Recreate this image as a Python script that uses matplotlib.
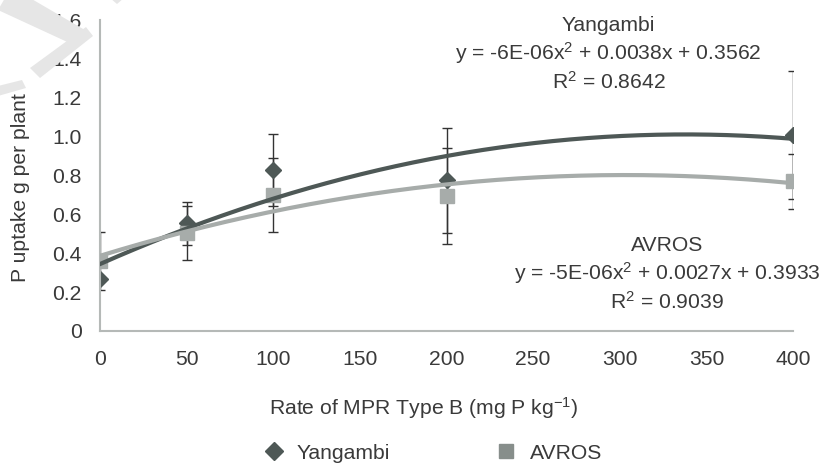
import numpy as np
import matplotlib
matplotlib.use("Agg")
import matplotlib.pyplot as plt
from matplotlib.lines import Line2D
from matplotlib.patches import Polygon

plt.rcParams['font.family'] = ['Liberation Sans', 'DejaVu Sans']
plt.rcParams['mathtext.fontset'] = 'custom'
plt.rcParams['mathtext.rm'] = 'Liberation Sans'
plt.rcParams['mathtext.it'] = 'Liberation Sans'

# data
rate = [0, 50, 100, 200, 400]
yangambi = [0.27, 0.555, 0.83, 0.776, 1.01]
yangambi_err = [0.0, 0.11, 0.185, 0.27, 0.33]
avros = [0.36, 0.505, 0.70, 0.694, 0.77]
avros_err = [0.15, 0.14, 0.19, 0.245, 0.14]

x_ticks = [0, 50, 100, 150, 200, 250, 300, 350, 400]
y_ticks = [0, 0.2, 0.4, 0.6, 0.8, 1.0, 1.2, 1.4, 1.6]
y_ticklabels = ['0', '0.2', '0.4', '0.6', '0.8', '1.0', '1.2', '1.4', '1.6']

dark = '#4e5856'
light = '#a7acaa'
txt = '#3a3a3a'
fs = 15.2

fig = plt.figure(figsize=(8.24, 4.68), dpi=100)

# faint watermark arrow in the top-left corner
W, H = 824.0, 468.0
def px(pts):
    return [(a / W, 1 - b / H) for a, b in pts]
for pts in ([(5, -2), (30, -2), (90, 33), (76, 46), (-2, 10)],
            [(30, 68), (86, 27), (93, 36), (40, 78)],
            [(-2, 86), (22, 80), (26, 88), (-2, 96)],
            [(110, -2), (124, -2), (117, 4)]):
    fig.patches.append(Polygon(px(pts), closed=True, transform=fig.transFigure,
                               facecolor='#e6e6e6', edgecolor='none', zorder=0))

ax = fig.add_axes([100 / W, 1 - 331 / H, 693 / W, 311 / H])
ax.patch.set_alpha(0)

ax.errorbar(rate, yangambi, yerr=yangambi_err, fmt='none', ecolor='#333333',
            elinewidth=1, capsize=3.6, capthick=1, zorder=1)
ax.errorbar(rate, avros, yerr=avros_err, fmt='none', ecolor='#333333',
            elinewidth=1, capsize=3.6, capthick=1, zorder=1)
ax.plot(rate, yangambi, linestyle='none', marker='D', ms=8.5, color=dark, zorder=2)
ax.plot(rate, avros, linestyle='none', marker='s', ms=10, color=light, zorder=3)

# polynomial trend lines (order 2)
xs = np.linspace(0, 400, 200)
cy = np.polyfit(rate, yangambi, 2)
ca = np.polyfit(rate, avros, 2)
ax.plot(xs, np.polyval(cy, xs), color=dark, lw=3, zorder=4)
ax.plot(xs, np.polyval(ca, xs), color=light, lw=3, zorder=4)

ax.set_xlim(0, 400)
ax.set_ylim(0, 1.6)
ax.set_xticks(x_ticks)
ax.set_yticks(y_ticks)
ax.set_yticklabels(y_ticklabels)
ax.tick_params(length=0, labelsize=fs, colors=txt)
ax.tick_params(axis='y', pad=13)
ax.tick_params(axis='x', pad=14)
for s in ['top', 'right']:
    ax.spines[s].set_visible(False)
for s in ['left', 'bottom']:
    ax.spines[s].set_color('#b5b9b7')
    ax.spines[s].set_linewidth(1.5)

ax.set_ylabel('P uptake g per plant', fontsize=fs, color=txt)
ax.yaxis.set_label_coords(-0.101, 0.46)
ax.set_xlabel('Rate of MPR Type B (mg P kg$^{-1}$)', fontsize=fs, color=txt)
ax.xaxis.set_label_coords(0.4675, -0.205)

# trend line labels
ax.text(0.734, 1.012, 'Yangambi\ny = -6E-06x$^2$ + 0.0038x + 0.3562\nR$^2$ = 0.8642',
        transform=ax.transAxes, ha='center', va='top', fontsize=fs, color=txt,
        linespacing=1.25)
ax.text(0.818, 0.06, 'AVROS\ny = -5E-06x$^2$ + 0.0027x + 0.3933\nR$^2$ = 0.9039',
        transform=ax.transAxes, ha='center', va='bottom', fontsize=fs, color=txt,
        linespacing=1.25)

handles = [Line2D([], [], linestyle='none', marker='D', ms=9.5, color=dark),
           Line2D([], [], linestyle='none', marker='s', ms=9.5, color='#878e8b')]
fig.legend(handles, ['Yangambi', 'AVROS'], loc='center', bbox_to_anchor=(0.525, 0.032),
           ncol=2, frameon=False, fontsize=fs, labelcolor=txt,
           handletextpad=0.6, columnspacing=5.0, handlelength=1.0)

fig.savefig('out.png', dpi=100)
